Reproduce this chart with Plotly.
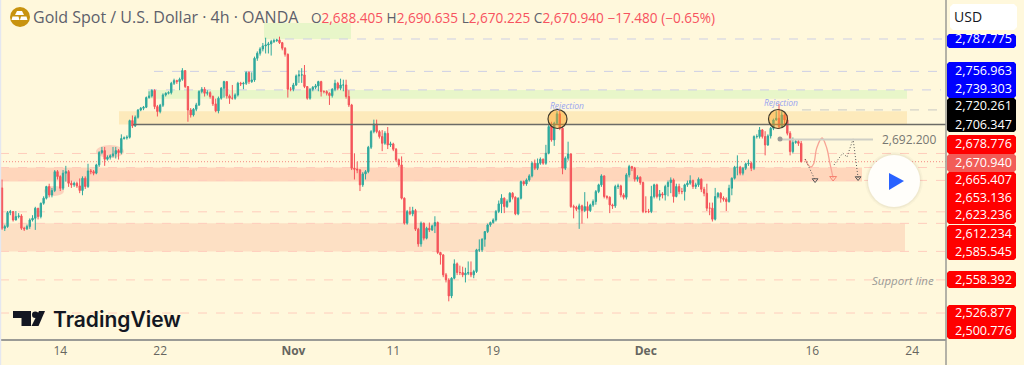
import plotly.graph_objects as go

first_open = 2646.0
close = [2607.6,2609.2,2622.5,2623.5,2615.5,2618.7,2619.3,2607.6,2607,2609.2,2615.5,2617.1,2626.6,2618.7,2631.4,2636.2,2647.3,2639.3,2643.5,2661.5,
2656.8,2645.7,2660,2661.5,2650.4,2648.9,2650.4,2647.9,2643.5,2655.2,2647.3,2662.2,2661.5,2660,2667.9,2679.6,2681.5,2673.3,2675.2,2676.5,
2678.4,2681.5,2679.6,2693,2693.6,2694.2,2710.1,2705,2713.3,2720.2,2721.8,2722.8,2732,2733.6,2738.7,2723.4,2718.7,2724.7,2734.5,2736.1,
2736.7,2745.6,2748.2,2747.2,2749.4,2757.7,2742.5,2720.2,2715.5,2720.9,2725,2737.7,2739.9,2736.1,2736.7,2733,2726,2719.3,2731.4,2740.9,
2747.2,2733.6,2731.4,2731.4,2734.5,2745.6,2745,2745.6,2755.8,2747.2,2748.8,2769.4,2774.2,2778.3,2781.2,2782.1,2783.1,2785.3,2786.2,2786.9,
2784.3,2779,2773.2,2739.9,2739.9,2744,2752.6,2753.6,2753.6,2742.5,2731.4,2739.9,2741.8,2743.1,2747.2,2737.7,2737.7,2736.1,2733.9,2739.9,
2745.6,2740.9,2744,2744,2733,2725,2664.7,2663.8,2663.1,2648.9,2659.3,2661.5,2684.7,2699.6,2706.9,2699.6,2694.9,2688.5,2698,2686.9,
2687.9,2682.8,2672.7,2667.9,2636.2,2612.4,2623.5,2621.3,2624.4,2606.7,2592.7,2612.4,2598.1,2607.6,2606,2609.8,2613,2584.5,2582.2,2563.2,
2558.4,2543.2,2560,2573.7,2565.4,2565.4,2563.2,2564.8,2565.4,2563.2,2566.4,2587,2587,2597.2,2604.4,2610.8,2613,2615.5,2623.5,2630.8,
2636.2,2628.2,2633,2640.9,2637.1,2621.3,2636.2,2652,2649.8,2653.6,2657.4,2669.5,2664.7,2669.5,2673.3,2669.5,2679,2704.4,2691.7,2707.6,
2716.5,2702.8,2664.7,2674.3,2678.4,2628.2,2627.6,2625.7,2628.9,2624.4,2628.2,2624.4,2629.8,2633,2642.5,2648.9,2657.4,2637.8,2637.1,2629.8,
2628.9,2647.3,2647.9,2639.3,2637.1,2658.4,2666.3,2664.7,2654.3,2656.2,2651.1,2623.5,2623.5,2623.5,2637.8,2648.9,2637.8,2640.3,2639.3,2647.3,
2651.1,2653.6,2637.8,2647.3,2642.5,2642.5,2648.9,2650.5,2653,2647.3,2648.9,2654.3,2644.7,2640.9,2626.7,2626.7,2616.2,2637.8,2640.9,2636.2,
2635.2,2633,2645.7,2655.2,2665.7,2665.7,2660,2664.7,2668.9,2669.5,2664.7,2694.9,2694.9,2701.2,2694.9,2686.9,2695.5,2702.8,2710.7,2712.3,
2704.4,2715.5,2710.7,2698,2680.6,2689.2,2690.1,2688.405,2670.94]
high = [2654,2611,2624,2625,2624,2624,2622,2621,2609,2611,2617,2620,2628,2627,2632,2638,2648,2650,2646,2663,
2663,2658,2663,2667,2663,2653,2652,2652,2655,2657,2657,2669,2664,2663,2669,2681,2685,2685,2677,2678,
2685,2685,2683,2697,2695,2696,2711,2715,2715,2721,2723,2724,2733,2738,2740,2740,2725,2726,2736,2737,
2738,2747,2750,2749,2751,2760,2758,2743,2722,2722,2727,2739,2742,2742,2739,2738,2734,2731,2733,2742,
2748,2744,2735,2744,2736,2747,2747,2747,2757,2757,2756,2771,2776,2780,2784,2789,2785,2787,2788,2788,
2790,2785,2780,2774,2742,2746,2754,2758,2760,2763,2743,2741,2743,2745,2748,2748,2739,2739,2737,2741,
2749,2747,2750,2749,2749,2739,2726,2679,2671,2664,2661,2663,2686,2701,2711,2711,2701,2701,2700,2704,
2690,2689,2684,2674,2676,2637,2625,2628,2628,2626,2608,2614,2613,2609,2613,2611,2619,2614,2585,2583,
2565,2560,2561,2578,2575,2572,2571,2570,2576,2576,2568,2588,2597,2598,2605,2612,2614,2617,2625,2634,
2640,2637,2635,2642,2642,2638,2637,2653,2653,2655,2659,2671,2673,2674,2675,2674,2687,2706,2709,2709,
2719,2720,2704,2676,2690,2679,2630,2629,2631,2630,2642,2633,2631,2635,2644,2650,2659,2658,2639,2638,
2631,2649,2650,2649,2641,2660,2668,2667,2666,2658,2657,2652,2638,2626,2648,2650,2650,2644,2642,2649,
2653,2656,2655,2650,2650,2646,2650,2653,2658,2654,2651,2656,2655,2647,2650,2632,2632,2646,2642,2642,
2638,2637,2649,2656,2667,2677,2667,2666,2670,2673,2671,2696,2697,2704,2702,2700,2697,2704,2712,2719,
2726,2719,2717,2715,2700,2694,2692,2692,2690.635]
low = [2606,2605,2608,2620,2614,2615,2617,2606,2605,2606,2607,2614,2606,2616,2617,2630,2635,2637,2637,2642,
2654,2643,2644,2652,2647,2646,2647,2646,2641,2639,2645,2646,2659,2658,2659,2666,2678,2667,2672,2673,
2675,2674,2673,2678,2692,2692,2693,2703,2704,2712,2719,2720,2722,2731,2732,2721,2714,2717,2723,2733,
2735,2735,2744,2745,2739,2748,2741,2709,2713,2714,2719,2724,2736,2733,2734,2731,2724,2718,2717,2730,
2732,2731,2726,2730,2730,2733,2743,2740,2744,2745,2746,2747,2767,2772,2776,2774,2774,2772,2784,2785,
2783,2777,2771,2732,2738,2738,2743,2746,2746,2741,2730,2730,2738,2740,2738,2733,2736,2734,2725,2732,
2738,2739,2739,2738,2731,2723,2663,2654,2660,2643,2647,2654,2660,2683,2698,2698,2693,2681,2687,2683,
2685,2681,2671,2666,2635,2611,2611,2620,2619,2605,2590,2590,2596,2597,2604,2605,2603,2583,2573,2561,
2556,2538,2541,2559,2563,2563,2561,2556,2563,2561,2560,2565,2585,2585,2590,2603,2609,2612,2614,2622,
2622,2622,2627,2632,2635,2620,2620,2635,2648,2648,2652,2656,2663,2663,2668,2668,2668,2678,2690,2686,
2706,2701,2659,2663,2672,2627,2617,2624,2607,2612,2623,2617,2623,2628,2630,2641,2647,2636,2635,2622,
2626,2627,2645,2637,2635,2635,2656,2662,2652,2652,2649,2622,2622,2622,2622,2636,2636,2634,2636,2634,
2638,2641,2632,2637,2640,2640,2634,2647,2649,2645,2645,2647,2642,2638,2624,2620,2614,2615,2636,2632,
2633,2624,2632,2639,2654,2658,2658,2658,2663,2667,2662,2663,2693,2693,2693,2677,2686,2693,2701,2710,
2702,2703,2706,2696,2677,2679,2688,2686,2670.225]
tick_index = [21, 57, 105, 141, 177, 232, 292, 328]
tick_labels = ["14", "22", "<b>Nov</b>", "11", "19", "<b>Dec</b>", "16", "24"]
level_prices = {"2,787.775": 2787.775, "2,756.963": 2756.963, "2,739.303": 2739.303, "2,720.261": 2720.261,
                "2,706.347": 2706.347, "2,678.776": 2678.776, "2,670.940": 2670.94, "2,665.407": 2665.407,
                "2,653.136": 2653.136, "2,623.236": 2623.236, "2,612.234": 2612.234, "2,585.545": 2585.545,
                "2,558.392": 2558.392, "2,526.877": 2526.877, "2,500.776": 2500.776}
red_path_x = [289.4, 290.5, 291.5, 292.5, 293.6, 295.5, 297.2, 298.3, 299.5]
red_path_y = [2673.5, 2668, 2665.9, 2669, 2684, 2693.5, 2684, 2670, 2655.4]
dot_a_x = [289.4, 293]
dot_a_y = [2673.5, 2653.5]
dot_b_x = [299.8, 303, 304.5, 306.7, 308.5]
dot_b_y = [2667.8, 2679.2, 2675.4, 2692.6, 2655.4]

W, H, PW, PH = 1024, 365, 946, 339
def xi(px): return (px - 2) / 2.775
def yp(py): return 2787.775 - (py - 39) / 1.0503
def fx(px): return px / PW
def fy(py): return 1 - py / PH

n = len(close)
opens = [first_open] + close[:-1]
opens[-1] = 2688.405
idx = list(range(n))

fig = go.Figure()
fig.add_trace(go.Candlestick(x=idx, open=opens, high=high, low=low, close=close,
    increasing=dict(line=dict(color="#2fa99d", width=1), fillcolor="#2fa99d"),
    decreasing=dict(line=dict(color="#f4545a", width=1), fillcolor="#f4545a"),
    whiskerwidth=0, hoverinfo="skip", showlegend=False))
fig.add_trace(go.Scatter(x=red_path_x, y=red_path_y, mode="lines", line=dict(color="#f7a394", width=1.3, shape="spline", smoothing=1.0),
    hoverinfo="skip", showlegend=False))
fig.add_trace(go.Scatter(x=red_path_x[-1:], y=red_path_y[-1:], mode="markers", marker=dict(symbol="triangle-down-open", size=6, color="#f7826f"),
    hoverinfo="skip", showlegend=False))
for xs, ys in ((dot_a_x, dot_a_y), (dot_b_x, dot_b_y)):
    fig.add_trace(go.Scatter(x=xs, y=ys, mode="lines", line=dict(color="#555", width=1, dash="1px,2px"), hoverinfo="skip", showlegend=False))
    fig.add_trace(go.Scatter(x=xs[-1:], y=ys[-1:], mode="markers", marker=dict(symbol="triangle-down-open", size=5, color="#555"), hoverinfo="skip", showlegend=False))

shapes = []
def zone(x0, x1, p0, p1, color):
    shapes.append(dict(type="rect", xref="x", yref="y", x0=xi(x0), x1=xi(x1), y0=p0, y1=p1, fillcolor=color, line_width=0, layer="below"))
zone(264, 351, 2803, 2787.775, "#e8f6c9")
zone(148, 907, 2739.303, 2731, "#e8f6c9")
zone(119, 907, 2719, 2706.347, "#fdeabb")
zone(0, 862, 2665.407, 2652, "#ffd6bb")
zone(0, 905, 2612.234, 2585.545, "#fde0c4")
def hline(x0, x1, p, color, dash="dash", width=1, layer="below"):
    shapes.append(dict(type="line", xref="x", yref="y", x0=xi(x0), x1=xi(x1), y0=p, y1=p, line=dict(color=color, dash=dash, width=width), layer=layer))
hline(285, PW, level_prices["2,787.775"], "#cdcfe6")
hline(154, PW, level_prices["2,756.963"], "#cdcfe6")
hline(148, 941, level_prices["2,739.303"], "#cdcfe6")
hline(802, PW, level_prices["2,720.261"], "#c9c9c4")
hline(133, PW, level_prices["2,706.347"], "#6b6b66", "solid", 1.3, "above")
for k in ["2,678.776", "2,665.407", "2,653.136", "2,623.236", "2,612.234", "2,585.545", "2,558.392", "2,526.877"]:
    hline(0, PW, level_prices[k], "#ffcdbd")
hline(0, PW, level_prices["2,670.940"], "#f58a80", "1px,2px")
hline(780, 873, 2692.2, "#cfcfc6", "solid", 2, "above")
shapes.append(dict(type="circle", xref="paper", yref="paper", x0=fx(777.5), x1=fx(782.5), y0=fy(141.5), y1=fy(136.5), fillcolor="#9a9a96", line_width=0))
for x0, x1, y0, y1 in ((96, 124, 145, 158), (44, 64, 186, 196), (60, 70, 168, 176)):
    shapes.append(dict(type="circle", xref="x", yref="y", x0=xi(x0), x1=xi(x1), y0=yp(y0), y1=yp(y1), fillcolor="#fcd3bd", line_width=0, layer="below"))
for cx in (557.5, 778):
    shapes.append(dict(type="circle", xref="x", yref="y", x0=xi(cx - 9.5), x1=xi(cx + 9.5), y0=yp(109.5), y1=yp(128.5),
                       fillcolor="rgba(255,165,30,0.45)", line=dict(color="#3f3a2c", width=1.2)))
shapes.append(dict(type="line", xref="paper", yref="paper", x0=1, x1=1, y0=fy(0), y1=fy(365), line=dict(color="#9b9b96", width=1.5)))
shapes.append(dict(type="rect", xref="paper", yref="paper", x0=0, x1=fx(1.2), y0=fy(0), y1=fy(365), fillcolor="#e4e7f0", line_width=0))

def poly(points, color):
    p = "M " + " L ".join(f"{fx(x):.5f},{fy(y):.5f}" for x, y in points) + " Z"
    shapes.append(dict(type="path", xref="paper", yref="paper", path=p, fillcolor=color, line_width=0))
def rrect(x0, y0, x1, y1, color, r=2):
    pts = [(x0 + r, y0), (x1 - r, y0), (x1, y0 + r), (x1, y1 - r), (x1 - r, y1), (x0 + r, y1), (x0, y1 - r), (x0, y0 + r)]
    poly(pts, color)
BL, BK, RD, LR = "#0000ff", "#000000", "#ff0000", "#f25c57"
for y0, y1, c in ((34, 48, BL), (62, 98, BL), (98, 132, BK), (135, 154, RD), (154, 172, LR), (172, 224, RD), (225, 260, RD), (271, 288, RD), (305, 339, RD)):
    rrect(947, y0, 1016, y1, c)
rrect(950, 4, 1017, 30, "#ffffff", 3)
for r, c in ((29, "rgba(0,0,0,0.025)"), (27.5, "rgba(0,0,0,0.035)")):
    shapes.append(dict(type="circle", xref="paper", yref="paper", x0=fx(894 - r), x1=fx(894 + r), y0=fy(181 + r), y1=fy(181 - r), fillcolor=c, line_width=0))
shapes.append(dict(type="circle", xref="paper", yref="paper", x0=fx(868), x1=fx(920), y0=fy(207), y1=fy(155), fillcolor="#fffefa", line_width=0))
poly([(889, 173), (904, 181), (889, 190)], "#2962ff")
shapes.append(dict(type="circle", xref="paper", yref="paper", x0=fx(10), x1=fx(30), y0=fy(27), y1=fy(7), fillcolor="#c8930f", line_width=0))
poly([(17, 11), (22, 11), (24, 15), (15, 15)], "#fff")
poly([(12.5, 16.5), (18.5, 16.5), (19.5, 20), (11.5, 20)], "#fff")
poly([(21, 16.5), (26.5, 16.5), (27.5, 20), (20, 20)], "#fff")
TV = "#131722"
poly([(13, 311), (31, 311), (31, 326), (21.5, 326), (21.5, 318), (13, 318)], TV)
shapes.append(dict(type="circle", xref="paper", yref="paper", x0=fx(32), x1=fx(38.5), y0=fy(318), y1=fy(311.5), fillcolor=TV, line_width=0))
poly([(39, 311), (45, 311), (38.5, 326), (31.5, 326)], TV)

anns = []
def text(px, py, s, size, color, font="Liberation Sans", anchor="center", italic=False, weight=None):
    f = dict(family=font, size=size, color=color)
    if weight:
        f["weight"] = weight
    anns.append(dict(xref="paper", yref="paper", x=fx(px), y=fy(py), text=f"<i>{s}</i>" if italic else s, showarrow=False,
                     xanchor=anchor, yanchor="middle", font=f))
label_y = {"2,787.775": 39, "2,756.963": 71, "2,739.303": 88.5, "2,720.261": 106, "2,706.347": 124, "2,678.776": 143, "2,670.940": 162,
           "2,665.407": 179, "2,653.136": 197, "2,623.236": 215, "2,612.234": 233, "2,585.545": 251, "2,558.392": 279, "2,526.877": 312, "2,500.776": 330}
for k in level_prices:
    text(983.5, label_y[k], k, 12.6, "#ffffff", "Open Sans")
text(952, 16, "USD", 14, "#131722", "Open Sans", "left")
GY, RED = "#5d606b", "#f7525f"
text(31, 17, "Gold Spot / U.S. Dollar · 4h · OANDA", 16, GY, "Open Sans", "left")
vals = [("O", "2,688.405"), ("H", "2,690.635"), ("L", "2,670.225"), ("C", "2,670.940")]
ohlc = "&nbsp;".join(f'<span style="color:{GY}">{a}</span><span style="color:{RED}">{b}</span>' for a, b in vals)
text(309, 17, ohlc + f'&nbsp;<span style="color:{RED}">−17.480 (−0.65%)</span>', 13.6, RED, "Open Sans", "left")
text(567, 105, "Rejection", 8.5, "#98a4f0", "Open Sans", italic=True)
text(781, 103, "Rejection", 8.5, "#98a4f0", "Open Sans", italic=True)
text(903, 280, "Support line", 11.5, "#9a9a96", "Open Sans", italic=True)
text(909, 139, "2,692.200", 12, "#777772", "Open Sans")
text(51, 319, "TradingView", 21, TV, "Inter", "left", weight=600)

fig.update_layout(width=W, height=H, autosize=False, margin=dict(l=0, r=W - PW, t=0, b=H - PH),
    paper_bgcolor="#fff8dc", plot_bgcolor="#fff8dc", shapes=shapes, annotations=anns, showlegend=False,
    xaxis=dict(range=[xi(0), xi(PW)], rangeslider=dict(visible=False), tickmode="array", tickvals=tick_index, ticktext=tick_labels,
               showgrid=False, zeroline=False, showline=True, linecolor="#9b9b96", linewidth=1.5, ticks="", ticklabelposition="outside",
               tickfont=dict(family="Open Sans", size=12, color="#666660")),
    yaxis=dict(range=[yp(PH), yp(0)], showgrid=False, zeroline=False, showticklabels=False, ticks="", showline=False))
fig.write_html("out.html", config=dict(displayModeBar=False, staticPlot=True),
               post_script="document.body.style.margin='0';document.body.style.background='#fff8dc';")
